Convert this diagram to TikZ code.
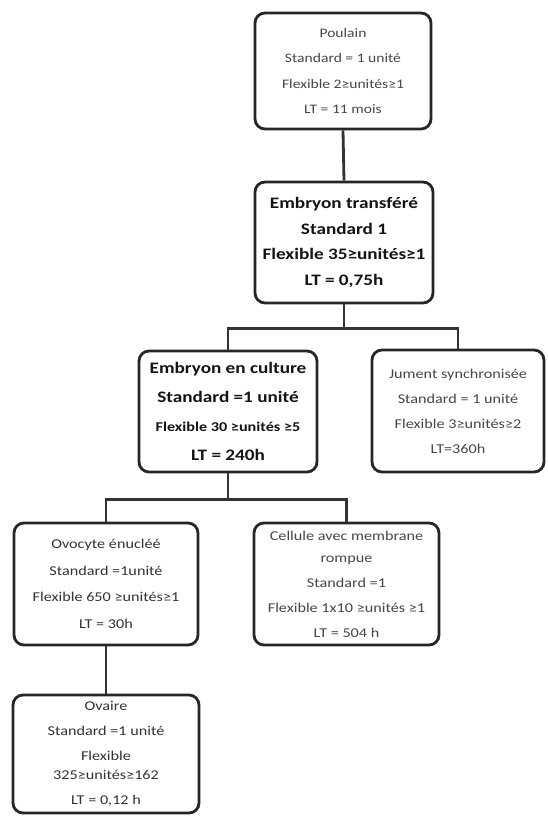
\documentclass[tikz,border=0pt]{standalone}
\usepackage{fontspec}
\setmainfont[FakeStretch=1.2]{Carlito}
\begin{document}
\begin{tikzpicture}[x=1pt,y=-1pt,
  box/.style={draw=black!85, line width=2.8pt, rounded corners=10pt, fill=white,
              align=center, inner sep=0pt},
  light/.style={text=black!72, font=\fontsize{13}{25.5}\selectfont},
  heavy/.style={text=black!92, font=\bfseries\fontsize{16}{25.5}\selectfont},
  link/.style={draw=black!80, line width=2.8pt}]
\useasboundingbox (0,0) rectangle (547,816);

% top of the chain
\node[box, light, minimum width=176pt, minimum height=116pt] (b1) at (343,71)
  {Poulain\\Standard = 1 unité\\Flexible 2≥unités≥1\\LT = 11 mois};
\node[box, heavy, minimum width=178pt, minimum height=121pt] (b2) at (344,242.5)
  {Embryon transféré\\Standard 1\\Flexible 35≥unités≥1\\LT = 0,75h};

% second level
\node[box, heavy, font=\bfseries\fontsize{16}{29}\selectfont,
      minimum width=178pt, minimum height=121pt] (b3) at (228,411.5)
  {Embryon en culture\\Standard =1 unité\\{\fontsize{13.5}{29}\selectfont Flexible 30 ≥unités ≥5}\\LT = 240h};
\node[box, light, font=\fontsize{13.5}{25}\selectfont,
      minimum width=172pt, minimum height=122pt] (b4) at (458,411)
  {Jument synchronisée\\Standard = 1 unité\\Flexible 3≥unités≥2\\LT=360h};

% third level
\node[box, light, text=black!80, font=\fontsize{13.5}{26.5}\selectfont,
      minimum width=184pt, minimum height=122pt] (b5) at (106,584)
  {Ovocyte énucléé\\Standard =1unité\\Flexible 650 ≥unités≥1\\LT = 30h};
\node[box, light, font=\fontsize{13.5}{25}\selectfont,
      minimum width=185pt, minimum height=122pt] (b6) at (346.5,584)
  {Cellule avec membrane\\[-3pt]rompue\\Standard =1\\Flexible 1x10 ≥unités ≥1\\LT = 504 h};

% bottom
\node[box, light, text=black!80, font=\fontsize{13.5}{25}\selectfont,
      minimum width=186pt, minimum height=118pt] (b7) at (106,754)
  {Ovaire\\Standard =1 unité\\Flexible\\[-6pt]325≥unités≥162\\LT = 0,12 h};

% connectors
\draw[link] (b1.south) -- (b2.north);
\draw[link] (b2.south) -- ++(0,24) coordinate (j1);
\draw[link] (b3.north) |- (j1) -| (b4.north);
\draw[link] (b3.south) -- ++(0,26) coordinate (j2);
\draw[link] (b5.north) |- (j2) -| (b6.north);
\draw[link] (b5.south) -- (b7.north);
\end{tikzpicture}
\end{document}
